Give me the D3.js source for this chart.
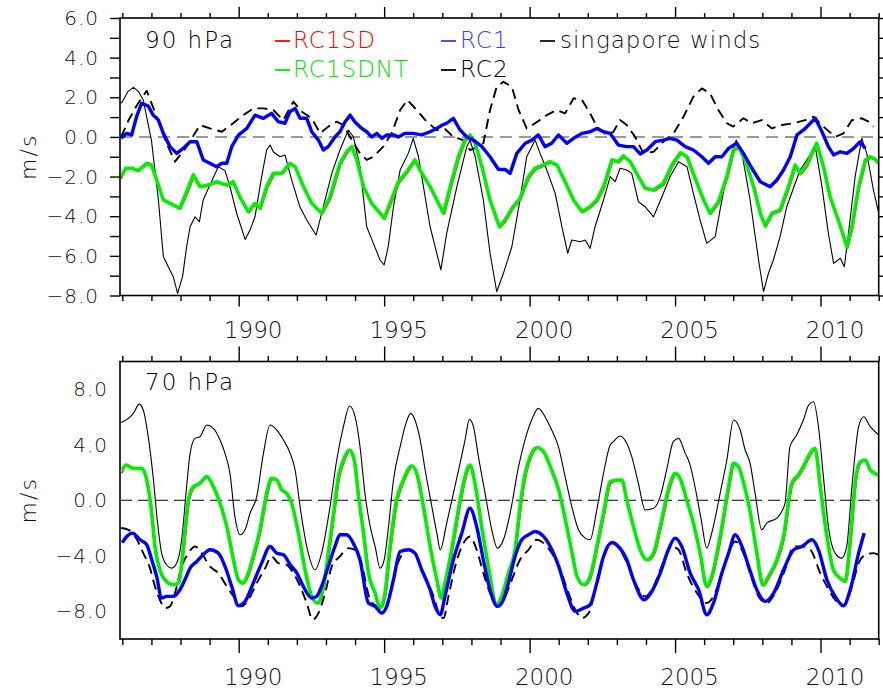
<!DOCTYPE html>
<html><head><meta charset="utf-8">
<script src="https://cdn.jsdelivr.net/npm/d3@7"></script>
<style>
html,body{margin:0;padding:0;background:#fff;}
svg{display:block;font-family:"DejaVu Sans",sans-serif;font-weight:200;}
</style></head>
<body>
<svg id="chart" width="883" height="694"></svg>
<script>
// ---------------- DATA ----------------
const yearTicks = d3.range(1986, 2013);
const yearLabels = [1990, 1995, 2000, 2005, 2010];
const topYTicks = d3.range(-8, 7, 1);
const topYLabels = [-8, -6, -4, -2, 0, 2, 4, 6];
const botYLabels = [-8, -4, 0, 4, 8];
const panelTitles = ["90 hPa", "70 hPa"];
const seriesNames = ["RC1SD", "RC1SDNT", "RC1", "RC2", "singapore winds"];

// 90 hPa panel: [year, m/s]
const sgp90 = [[1985.96,1.7],[1986.0,1.78],[1986.2,2.3],[1986.38,2.5],[1986.55,2.3],[1986.72,1.86],[1987.0,-0.16],[1987.24,-3.18],[1987.41,-6.04],[1987.58,-6.55],[1987.75,-7.05],[1987.9,-7.89],[1988.07,-7.05],[1988.21,-5.54],[1988.33,-4.53],[1988.5,-4.03],[1988.65,-4.28],[1988.78,-3.18],[1989.01,-2.43],[1989.3,-1.5],[1989.53,-1.7],[1989.7,-2.51],[1989.93,-3.85],[1990.22,-5.17],[1990.39,-4.7],[1990.56,-4.03],[1990.79,-2.0],[1990.96,-0.66],[1991.08,-0.41],[1991.19,-0.75],[1991.42,-1.0],[1991.59,-0.91],[1991.82,-2.17],[1992.1,-3.52],[1992.34,-4.19],[1992.66,-4.95],[1992.91,-3.52],[1993.2,-1.84],[1993.48,-0.66],[1993.77,0.35],[1993.94,0.01],[1994.17,-1.5],[1994.4,-4.53],[1994.63,-5.37],[1994.86,-6.21],[1995.0,-6.46],[1995.14,-5.54],[1995.32,-3.52],[1995.55,-1.67],[1995.83,-0.83],[1996.0,-0.07],[1996.18,-1.0],[1996.35,-2.51],[1996.58,-4.53],[1996.81,-5.87],[1996.95,-6.71],[1997.15,-4.86],[1997.5,-2.51],[1997.84,-0.49],[1997.95,-0.16],[1998.13,-1.0],[1998.41,-3.18],[1998.64,-5.87],[1998.87,-7.81],[1999.1,-6.88],[1999.39,-5.54],[1999.67,-3.18],[1999.9,-1.0],[2000.19,-0.16],[2000.36,-0.83],[2000.59,-1.67],[2000.88,-2.85],[2001.11,-4.53],[2001.31,-5.87],[2001.45,-5.2],[2001.74,-5.29],[2001.91,-5.2],[2002.08,-5.62],[2002.25,-4.53],[2002.54,-3.18],[2002.77,-2.0],[2002.94,-2.26],[2003.11,-1.58],[2003.34,-1.67],[2003.51,-1.84],[2003.74,-3.27],[2003.97,-3.52],[2004.26,-4.03],[2004.55,-3.02],[2004.83,-2.0],[2005.12,-1.25],[2005.41,-1.5],[2005.63,-2.85],[2005.86,-4.19],[2006.09,-5.37],[2006.38,-5.03],[2006.61,-3.18],[2006.89,-1.16],[2007.1,-0.16],[2007.3,-0.83],[2007.58,-3.18],[2007.87,-6.21],[2008.04,-7.81],[2008.21,-6.88],[2008.38,-6.21],[2008.61,-5.03],[2008.84,-3.52],[2009.13,-2.34],[2009.3,-1.67],[2009.53,-1.16],[2009.82,-0.49],[2010.05,-2.51],[2010.27,-4.86],[2010.45,-6.38],[2010.68,-6.12],[2010.82,-6.55],[2010.96,-4.86],[2011.19,-2.0],[2011.42,-0.07],[2011.59,-0.83],[2011.82,-2.68],[2012.0,-3.85]];

const rc2_90 = [[1985.96,0.0],[1986.2,0.8],[1986.5,1.6],[1986.84,2.33],[1987.18,1.02],[1987.52,-0.32],[1987.81,-1.25],[1988.21,-0.49],[1988.67,0.6],[1989.01,0.43],[1989.42,0.26],[1989.81,0.69],[1990.16,1.1],[1990.5,1.44],[1990.85,1.44],[1991.19,1.36],[1991.53,0.85],[1991.88,1.78],[1992.17,1.27],[1992.51,0.94],[1992.8,0.18],[1993.08,0.52],[1993.37,0.77],[1993.6,0.6],[1993.89,-0.16],[1994.17,-0.83],[1994.4,-1.16],[1994.63,-1.0],[1994.97,-0.49],[1995.26,0.18],[1995.55,1.36],[1995.8,1.86],[1996.12,1.36],[1996.46,0.77],[1996.81,0.35],[1997.09,0.4],[1997.38,0.0],[1997.72,-0.16],[1997.95,-0.66],[1998.24,-0.49],[1998.41,-0.32],[1998.64,1.36],[1998.87,2.53],[1999.1,2.78],[1999.39,2.53],[1999.62,1.36],[1999.9,0.43],[2000.19,0.69],[2000.59,1.1],[2000.94,1.36],[2001.22,1.19],[2001.51,1.95],[2001.8,1.86],[2002.08,1.19],[2002.31,0.52],[2002.65,0.1],[2002.88,0.26],[2003.11,0.85],[2003.34,0.6],[2003.63,0.0],[2003.91,-0.83],[2004.26,-0.75],[2004.6,-0.24],[2004.95,0.18],[2005.29,1.02],[2005.63,2.03],[2005.92,2.45],[2006.2,2.2],[2006.49,1.36],[2006.78,0.69],[2007.0,0.52],[2007.35,0.94],[2007.64,0.69],[2007.98,0.85],[2008.33,0.43],[2008.67,0.6],[2009.07,0.69],[2009.47,0.85],[2009.76,1.02],[2010.1,0.52],[2010.51,0.0],[2010.79,0.18],[2011.08,0.85],[2011.42,0.94],[2011.65,0.77],[2011.82,0.52]];

const rc1_90 = [[1985.96,-0.07],[1986.15,0.18],[1986.32,0.1],[1986.49,1.02],[1986.66,1.69],[1986.89,1.56],[1987.06,1.1],[1987.24,0.85],[1987.41,0.18],[1987.64,-0.49],[1987.87,-0.83],[1988.09,-0.58],[1988.33,-0.24],[1988.56,-0.24],[1988.78,-1.16],[1989.01,-1.33],[1989.24,-1.5],[1989.42,-1.33],[1989.59,-1.33],[1989.76,-0.49],[1990.0,0.1],[1990.28,0.43],[1990.56,1.1],[1990.85,0.94],[1991.13,1.19],[1991.36,0.77],[1991.59,0.69],[1991.76,1.27],[1991.94,1.44],[1992.11,0.94],[1992.34,0.94],[1992.51,0.26],[1992.74,-0.16],[1992.91,-0.66],[1993.08,-0.49],[1993.31,0.0],[1993.48,0.26],[1993.66,0.77],[1993.83,1.1],[1993.99,0.77],[1994.23,0.43],[1994.4,0.26],[1994.57,0.0],[1994.75,0.18],[1994.92,-0.07],[1995.09,0.1],[1995.32,0.1],[1995.49,0.0],[1995.72,0.18],[1996.0,0.18],[1996.29,0.1],[1996.58,0.26],[1996.81,0.43],[1997.0,0.6],[1997.15,0.69],[1997.38,0.94],[1997.61,0.35],[1997.84,0.0],[1998.07,-0.16],[1998.36,-0.49],[1998.64,-1.0],[1998.93,-1.64],[1999.16,-1.64],[1999.33,-1.84],[1999.56,-0.83],[1999.85,-0.32],[2000.08,-0.16],[2000.3,0.1],[2000.53,-0.49],[2000.76,-0.32],[2000.99,0.1],[2001.28,-0.32],[2001.51,-0.07],[2001.8,0.18],[2002.08,0.26],[2002.31,0.43],[2002.54,0.26],[2002.77,0.18],[2003.05,-0.41],[2003.34,-0.49],[2003.57,-0.49],[2003.8,-0.86],[2004.03,-0.66],[2004.32,-0.24],[2004.6,-0.16],[2004.83,-0.07],[2005.06,-0.16],[2005.35,-0.49],[2005.63,-0.66],[2005.92,-1.0],[2006.15,-1.33],[2006.38,-1.0],[2006.61,-1.0],[2006.84,-0.58],[2007.12,-0.32],[2007.35,-0.83],[2007.64,-1.58],[2007.93,-2.26],[2008.27,-2.51],[2008.5,-2.17],[2008.73,-1.67],[2008.96,-1.0],[2009.19,0.1],[2009.42,0.35],[2009.59,0.6],[2009.82,0.94],[2010.05,0.26],[2010.27,-0.49],[2010.45,-0.91],[2010.68,-0.75],[2010.91,-0.83],[2011.14,-0.58],[2011.36,-0.24],[2011.54,-0.58]];

const sdnt90 = [[1985.96,-2.0],[1986.12,-1.58],[1986.32,-1.58],[1986.55,-1.7],[1986.84,-1.33],[1987.0,-1.42],[1987.18,-2.17],[1987.41,-3.18],[1987.64,-3.35],[1987.98,-3.6],[1988.21,-2.76],[1988.44,-1.92],[1988.67,-2.51],[1988.95,-2.43],[1989.24,-2.26],[1989.59,-2.43],[1989.81,-2.26],[1990.04,-3.02],[1990.33,-3.77],[1990.56,-3.35],[1990.73,-3.6],[1990.96,-2.51],[1991.19,-1.84],[1991.48,-1.84],[1991.76,-1.33],[1991.94,-1.5],[1992.23,-2.51],[1992.51,-3.35],[1992.85,-3.85],[1993.14,-3.02],[1993.48,-1.33],[1993.71,-0.75],[1993.89,-0.49],[1994.06,-1.16],[1994.29,-2.51],[1994.57,-3.35],[1994.86,-3.85],[1995.0,-4.11],[1995.2,-3.35],[1995.49,-2.26],[1995.78,-1.75],[1996.06,-1.16],[1996.23,-1.67],[1996.58,-2.51],[1996.81,-3.18],[1997.04,-3.85],[1997.27,-2.51],[1997.55,-1.0],[1997.78,-0.16],[1997.95,0.1],[1998.13,-0.32],[1998.36,-1.5],[1998.64,-3.18],[1998.96,-4.53],[1999.16,-4.19],[1999.39,-3.6],[1999.67,-3.1],[1999.96,-2.0],[2000.19,-1.58],[2000.47,-1.42],[2000.7,-1.25],[2000.94,-1.42],[2001.22,-2.26],[2001.51,-3.18],[2001.8,-3.77],[2002.08,-3.52],[2002.31,-3.18],[2002.54,-2.51],[2002.83,-1.16],[2003.05,-1.25],[2003.22,-0.96],[2003.46,-1.25],[2003.74,-2.0],[2003.97,-2.59],[2004.26,-2.68],[2004.6,-2.34],[2004.89,-1.42],[2005.18,-0.8],[2005.41,-1.0],[2005.69,-2.09],[2005.98,-3.18],[2006.2,-3.85],[2006.49,-3.27],[2006.78,-2.0],[2007.0,-0.66],[2007.18,-0.49],[2007.41,-1.16],[2007.7,-2.51],[2007.93,-3.85],[2008.1,-4.49],[2008.33,-3.85],[2008.61,-3.69],[2008.9,-2.51],[2009.13,-1.42],[2009.3,-1.84],[2009.53,-1.42],[2009.7,-0.83],[2009.87,-0.32],[2010.1,-1.5],[2010.33,-3.02],[2010.61,-4.19],[2010.91,-5.54],[2011.08,-4.53],[2011.31,-2.51],[2011.54,-1.16],[2011.71,-1.0],[2011.88,-1.13],[2012.0,-1.33]];

const sd90 = [[1985.96,-2.1],[1986.12,-1.65],[1986.32,-1.62],[1986.55,-1.75],[1986.86,-1.38],[1987.02,-1.45],[1987.22,-2.25],[1987.44,-3.25],[1987.66,-3.4],[1988.0,-3.65],[1988.24,-2.85],[1988.47,-1.98],[1988.7,-2.55],[1988.97,-2.47],[1989.26,-2.3],[1989.61,-2.47],[1989.83,-2.3],[1990.07,-3.08],[1990.36,-3.82],[1990.58,-3.4],[1990.76,-3.65],[1990.99,-2.58],[1991.22,-1.9],[1991.5,-1.88],[1991.78,-1.38],[1991.96,-1.55],[1992.26,-2.57],[1992.54,-3.42],[1992.88,-3.9],[1993.17,-3.1],[1993.51,-1.4],[1993.74,-0.8],[1993.91,-0.52],[1994.09,-1.22],[1994.32,-2.57],[1994.6,-3.42],[1994.89,-3.9],[1995.03,-4.15],[1995.23,-3.42],[1995.52,-2.32],[1995.81,-1.8],[1996.08,-1.2],[1996.26,-1.72],[1996.61,-2.57],[1996.84,-3.25],[1997.07,-3.9],[1997.3,-2.6],[1997.58,-1.08],[1997.81,-0.22],[1997.97,0.05],[1998.16,-0.38],[1998.39,-1.57],[1998.67,-3.25],[1998.99,-4.58],[1999.19,-4.25],[1999.42,-3.65],[1999.7,-3.15],[1999.99,-2.07],[2000.22,-1.64],[2000.5,-1.47],[2000.72,-1.3],[2000.97,-1.47],[2001.25,-2.32],[2001.54,-3.24],[2001.83,-3.82],[2002.11,-3.57],[2002.34,-3.24],[2002.57,-2.57],[2002.86,-1.22],[2003.08,-1.3],[2003.25,-1.02],[2003.49,-1.3],[2003.77,-2.06],[2004.0,-2.64],[2004.29,-2.73],[2004.63,-2.4],[2004.92,-1.48],[2005.2,-0.85],[2005.43,-1.05],[2005.72,-2.15],[2006.01,-3.24],[2006.23,-3.9],[2006.52,-3.32],[2006.81,-2.06],[2007.03,-0.72],[2007.2,-0.54],[2007.44,-1.22],[2007.73,-2.57],[2007.96,-3.9],[2008.13,-4.54],[2008.36,-3.9],[2008.64,-3.75],[2008.93,-2.57],[2009.16,-1.48],[2009.33,-1.9],[2009.56,-1.48],[2009.73,-0.88],[2009.89,-0.37],[2010.13,-1.55],[2010.36,-3.08],[2010.64,-4.25],[2010.94,-5.6],[2011.11,-4.58],[2011.34,-2.57],[2011.57,-1.22],[2011.74,-1.05],[2011.9,-1.18],[2012.0,-1.36]];

// 70 hPa panel: [year, m/s]
const sgp70 = [[1985.96,5.6],[1986.21,5.9],[1986.38,6.26],[1986.58,6.93],[1986.72,6.5],[1986.89,4.58],[1987.07,1.46],[1987.2,-1.41],[1987.35,-3.81],[1987.52,-4.65],[1987.7,-4.89],[1987.87,-4.53],[1988.04,-2.85],[1988.21,0.98],[1988.33,3.38],[1988.5,4.46],[1988.67,4.58],[1988.9,5.42],[1989.13,5.18],[1989.36,4.34],[1989.53,3.38],[1989.7,1.94],[1989.87,-1.18],[1990.05,-2.49],[1990.22,-2.13],[1990.39,-0.94],[1990.62,0.26],[1990.85,3.38],[1991.08,5.42],[1991.31,5.06],[1991.54,4.34],[1991.77,3.38],[1991.94,2.18],[1992.11,-0.46],[1992.34,-3.33],[1992.62,-5.01],[1992.85,-3.81],[1993.14,-0.46],[1993.37,2.9],[1993.6,5.3],[1993.81,6.79],[1994.0,6.02],[1994.17,3.86],[1994.34,0.5],[1994.52,-1.89],[1994.69,-3.33],[1994.86,-4.89],[1995.0,-4.29],[1995.15,-1.89],[1995.32,1.46],[1995.55,3.86],[1995.75,5.54],[1995.91,6.26],[1996.06,5.78],[1996.24,4.34],[1996.41,2.18],[1996.64,-0.46],[1996.81,-2.37],[1996.93,-3.57],[1997.15,-1.65],[1997.38,0.5],[1997.61,2.66],[1997.78,4.34],[1997.93,5.83],[1998.07,5.3],[1998.24,3.14],[1998.47,0.5],[1998.7,-2.13],[1998.89,-3.45],[1999.1,-2.85],[1999.33,-0.94],[1999.62,2.42],[1999.84,4.34],[2000.07,5.78],[2000.3,6.62],[2000.53,6.02],[2000.76,5.06],[2000.99,3.86],[2001.22,1.7],[2001.45,-0.46],[2001.68,-2.13],[2001.91,-2.73],[2002.08,-2.85],[2002.31,-0.7],[2002.54,1.94],[2002.77,3.98],[2002.88,4.22],[2003.11,4.63],[2003.34,4.1],[2003.51,3.14],[2003.74,1.22],[2003.97,-0.7],[2004.26,-0.58],[2004.49,0.26],[2004.71,2.18],[2004.94,4.22],[2005.12,4.46],[2005.35,3.38],[2005.5,2.66],[2005.73,0.5],[2005.9,-1.41],[2006.09,-3.45],[2006.26,-2.37],[2006.55,0.5],[2006.78,2.9],[2007.01,5.78],[2007.24,5.06],[2007.41,3.62],[2007.58,2.66],[2007.75,0.5],[2007.98,-2.13],[2008.15,-1.65],[2008.5,-1.29],[2008.78,-0.22],[2008.95,3.86],[2009.18,4.7],[2009.41,5.78],[2009.59,6.86],[2009.76,7.1],[2009.93,5.3],[2010.1,1.7],[2010.27,-1.89],[2010.5,-3.81],[2010.73,-4.17],[2010.9,-3.33],[2011.08,0.98],[2011.31,5.3],[2011.48,6.02],[2011.71,5.3],[2012.0,4.7]];

const sdnt70 = [[1986.0,2.18],[1986.13,2.54],[1986.38,2.3],[1986.66,2.3],[1986.84,1.46],[1987.01,-0.94],[1987.12,-3.33],[1987.29,-5.01],[1987.52,-5.85],[1987.75,-6.09],[1987.93,-5.97],[1988.1,-3.33],[1988.27,0.02],[1988.44,0.98],[1988.67,1.22],[1988.9,1.7],[1989.13,0.98],[1989.36,-0.22],[1989.59,-1.89],[1989.82,-4.29],[1989.99,-5.73],[1990.14,-5.97],[1990.33,-5.25],[1990.5,-4.05],[1990.73,-2.13],[1990.96,0.5],[1991.13,1.58],[1991.31,1.46],[1991.48,0.74],[1991.65,0.5],[1991.82,-0.22],[1992.05,-2.37],[1992.28,-5.01],[1992.51,-6.93],[1992.71,-7.41],[1992.91,-6.21],[1993.08,-3.81],[1993.26,-0.94],[1993.43,1.7],[1993.6,2.9],[1993.81,3.62],[1993.97,2.9],[1994.12,0.26],[1994.29,-2.37],[1994.46,-5.25],[1994.69,-6.69],[1994.86,-7.77],[1995.03,-6.69],[1995.2,-3.33],[1995.43,0.02],[1995.66,1.46],[1995.95,2.47],[1996.12,1.94],[1996.35,-0.46],[1996.58,-3.33],[1996.81,-5.73],[1996.96,-7.05],[1997.09,-5.97],[1997.32,-3.57],[1997.55,-0.7],[1997.78,1.7],[1997.95,2.54],[1998.12,1.22],[1998.35,-1.89],[1998.58,-4.77],[1998.87,-7.53],[1999.04,-6.93],[1999.27,-5.25],[1999.5,-3.57],[1999.67,-0.46],[1999.85,1.94],[2000.02,3.14],[2000.25,3.8],[2000.48,3.5],[2000.71,2.42],[2001.0,0.74],[2001.23,-1.41],[2001.46,-3.81],[2001.63,-5.49],[2001.86,-6.09],[2002.08,-5.49],[2002.31,-3.33],[2002.54,-0.94],[2002.77,1.34],[2003.0,1.46],[2003.17,1.46],[2003.34,0.02],[2003.57,-1.89],[2003.8,-3.57],[2004.03,-4.29],[2004.26,-3.81],[2004.49,-1.89],[2004.83,1.22],[2005.0,1.94],[2005.17,1.58],[2005.4,0.02],[2005.63,-1.65],[2005.86,-3.81],[2006.09,-6.21],[2006.26,-5.49],[2006.55,-2.61],[2006.84,0.98],[2007.01,2.66],[2007.18,2.42],[2007.36,1.22],[2007.59,-0.94],[2007.81,-3.81],[2008.02,-6.09],[2008.21,-5.49],[2008.5,-4.29],[2008.73,-2.61],[2009.01,1.22],[2009.24,1.82],[2009.41,2.42],[2009.64,3.38],[2009.81,3.74],[2009.99,0.98],[2010.22,-2.61],[2010.44,-5.01],[2010.67,-5.61],[2010.85,-5.85],[2011.02,-2.85],[2011.2,1.46],[2011.37,2.78],[2011.54,2.9],[2011.71,2.18],[2012.0,1.82]];

const sd70 = [[1985.98,1.95],[1986.15,2.5],[1986.4,2.26],[1986.68,2.26],[1986.87,1.3],[1987.04,-1.05],[1987.15,-3.4],[1987.32,-5.1],[1987.55,-5.95],[1987.78,-6.15],[1987.96,-6.0],[1988.13,-3.45],[1988.3,-0.1],[1988.47,0.9],[1988.7,1.18],[1988.93,1.66],[1989.16,0.92],[1989.39,-0.3],[1989.62,-1.98],[1989.85,-4.38],[1990.02,-5.8],[1990.17,-6.02],[1990.36,-5.35],[1990.53,-4.15],[1990.76,-2.25],[1990.99,0.38],[1991.16,1.5],[1991.34,1.4],[1991.51,0.66],[1991.68,0.42],[1991.85,-0.32],[1992.08,-2.47],[1992.31,-5.1],[1992.54,-7.0],[1992.74,-7.46],[1992.94,-6.3],[1993.11,-3.95],[1993.29,-1.1],[1993.46,1.56],[1993.63,2.8],[1993.84,3.55],[1994.0,2.8],[1994.15,0.14],[1994.32,-2.48],[1994.49,-5.35],[1994.72,-6.78],[1994.89,-7.8],[1995.06,-6.8],[1995.23,-3.5],[1995.46,-0.1],[1995.69,1.36],[1995.98,2.42],[1996.15,1.85],[1996.38,-0.58],[1996.61,-3.43],[1996.84,-5.82],[1996.99,-7.1],[1997.12,-6.1],[1997.35,-3.7],[1997.58,-0.82],[1997.81,1.58],[1997.98,2.48],[1998.15,1.1],[1998.38,-2.0],[1998.61,-4.87],[1998.9,-7.58],[1999.07,-7.0],[1999.3,-5.35],[1999.53,-3.67],[1999.7,-0.6],[1999.88,1.82],[2000.05,3.05],[2000.28,3.74],[2000.51,3.44],[2000.74,2.32],[2001.03,0.62],[2001.26,-1.52],[2001.49,-3.92],[2001.66,-5.58],[2001.89,-6.15],[2002.11,-5.58],[2002.34,-3.45],[2002.57,-1.06],[2002.8,1.22],[2003.03,1.4],[2003.2,1.38],[2003.37,-0.1],[2003.6,-2.0],[2003.83,-3.66],[2004.06,-4.35],[2004.29,-3.9],[2004.52,-2.0],[2004.86,1.1],[2005.03,1.88],[2005.2,1.5],[2005.43,-0.1],[2005.66,-1.75],[2005.89,-3.92],[2006.12,-6.3],[2006.29,-5.58],[2006.58,-2.72],[2006.87,0.86],[2007.04,2.6],[2007.21,2.35],[2007.39,1.1],[2007.62,-1.05],[2007.84,-3.92],[2008.05,-6.18],[2008.24,-5.58],[2008.53,-4.38],[2008.76,-2.72],[2009.04,1.1],[2009.27,1.75],[2009.44,2.35],[2009.67,3.3],[2009.84,3.7],[2010.02,0.86],[2010.25,-2.72],[2010.47,-5.1],[2010.7,-5.7],[2010.88,-5.9],[2011.05,-2.98],[2011.23,1.34],[2011.4,2.7],[2011.57,2.85],[2011.74,2.1],[2012.0,1.76]];

const rc1_70 = [[1986.0,-3.05],[1986.15,-2.61],[1986.35,-2.37],[1986.61,-2.85],[1986.84,-3.21],[1987.01,-4.29],[1987.18,-5.49],[1987.35,-7.05],[1987.52,-6.93],[1987.75,-6.93],[1987.98,-6.45],[1988.15,-5.73],[1988.33,-4.89],[1988.56,-4.41],[1988.78,-3.93],[1989.01,-3.57],[1989.3,-3.81],[1989.53,-4.77],[1989.76,-6.21],[1989.99,-7.6],[1990.22,-7.29],[1990.5,-5.97],[1990.79,-4.53],[1991.08,-3.33],[1991.31,-3.81],[1991.54,-3.93],[1991.77,-4.65],[1992.0,-5.25],[1992.22,-6.21],[1992.51,-7.05],[1992.68,-6.93],[1992.85,-6.21],[1993.08,-4.77],[1993.31,-3.33],[1993.48,-2.49],[1993.71,-2.49],[1993.94,-3.09],[1994.17,-4.29],[1994.46,-7.41],[1994.69,-7.65],[1994.92,-8.13],[1995.09,-7.65],[1995.32,-5.73],[1995.55,-3.69],[1995.83,-3.57],[1996.06,-3.81],[1996.29,-5.01],[1996.58,-6.45],[1996.75,-7.65],[1996.93,-8.25],[1997.09,-6.93],[1997.38,-4.29],[1997.67,-2.37],[1997.95,-0.58],[1998.18,-1.89],[1998.41,-4.29],[1998.64,-6.45],[1998.89,-7.65],[1999.1,-7.17],[1999.27,-5.97],[1999.5,-4.05],[1999.73,-2.85],[1999.96,-2.49],[2000.19,-2.25],[2000.42,-2.49],[2000.71,-3.33],[2001.0,-4.77],[2001.28,-6.69],[2001.57,-8.01],[2001.86,-7.77],[2002.08,-7.53],[2002.31,-5.97],[2002.54,-4.05],[2002.83,-3.05],[2003.05,-3.33],[2003.34,-4.29],[2003.57,-5.73],[2003.94,-7.17],[2004.2,-6.57],[2004.49,-5.25],[2004.77,-3.57],[2005.0,-2.73],[2005.23,-3.33],[2005.52,-5.25],[2005.81,-6.45],[2006.09,-8.25],[2006.32,-7.41],[2006.61,-5.25],[2006.84,-3.81],[2007.07,-2.49],[2007.3,-3.33],[2007.53,-4.77],[2007.81,-6.45],[2008.1,-7.29],[2008.39,-6.69],[2008.73,-5.01],[2009.08,-3.57],[2009.36,-3.33],[2009.71,-2.85],[2009.93,-3.57],[2010.22,-5.73],[2010.5,-6.93],[2010.79,-7.6],[2011.02,-6.45],[2011.31,-3.81],[2011.5,-2.37]];

const rc2_70 = [[1985.96,-2.0],[1986.21,-2.13],[1986.44,-2.61],[1986.72,-3.81],[1986.95,-4.89],[1987.12,-6.21],[1987.29,-7.17],[1987.47,-7.77],[1987.64,-7.65],[1987.81,-6.69],[1988.04,-4.77],[1988.27,-3.81],[1988.5,-3.33],[1988.73,-3.81],[1989.01,-4.77],[1989.3,-5.25],[1989.59,-6.21],[1989.87,-7.05],[1990.1,-7.65],[1990.33,-7.17],[1990.62,-5.97],[1990.91,-4.89],[1991.13,-4.05],[1991.36,-4.53],[1991.65,-4.65],[1991.88,-5.25],[1992.11,-6.21],[1992.34,-7.41],[1992.54,-8.61],[1992.74,-8.13],[1992.97,-6.69],[1993.2,-4.77],[1993.48,-4.05],[1993.77,-3.45],[1994.0,-3.57],[1994.23,-4.65],[1994.52,-7.17],[1994.75,-7.65],[1994.97,-8.01],[1995.2,-6.69],[1995.43,-4.77],[1995.66,-3.81],[1995.89,-3.57],[1996.12,-4.17],[1996.41,-5.49],[1996.7,-6.93],[1996.93,-8.37],[1997.04,-8.49],[1997.21,-6.93],[1997.44,-4.77],[1997.73,-3.09],[1997.95,-2.61],[1998.18,-3.57],[1998.41,-5.25],[1998.64,-6.69],[1998.93,-7.53],[1999.16,-6.93],[1999.39,-5.73],[1999.67,-4.29],[1999.96,-3.57],[2000.25,-2.85],[2000.48,-3.09],[2000.76,-3.81],[2001.05,-5.01],[2001.34,-6.69],[2001.57,-7.89],[2001.8,-8.49],[2002.03,-8.13],[2002.31,-5.97],[2002.6,-3.81],[2002.83,-3.09],[2003.11,-3.57],[2003.4,-4.77],[2003.69,-6.21],[2003.97,-6.93],[2004.26,-6.21],[2004.54,-4.77],[2004.89,-3.33],[2005.12,-3.57],[2005.4,-5.25],[2005.75,-6.69],[2006.09,-7.41],[2006.32,-6.93],[2006.61,-5.25],[2006.84,-3.81],[2007.07,-2.97],[2007.3,-3.57],[2007.58,-5.25],[2007.87,-6.93],[2008.15,-7.41],[2008.44,-6.69],[2008.78,-5.01],[2009.08,-3.33],[2009.36,-3.33],[2009.65,-3.57],[2009.99,-5.25],[2010.22,-6.21],[2010.5,-7.17],[2010.79,-7.65],[2011.08,-6.21],[2011.31,-4.53],[2011.54,-3.93],[2011.82,-3.81],[2012.0,-3.93]];

// ---------------- DRAW ----------------
const svg = d3.select("#chart");
const X0 = 120, X1 = 878.7;
const x = d3.scaleLinear().domain([1985.92, 2012.0]).range([X0, X1]);
const yTop = d3.scaleLinear().domain([-8, 6]).range([295.5, 18]);
const yBot = d3.scaleLinear().domain([-10, 10]).range([639, 361.5]);

const C = {red:"#ff0000", green:"#00f000", blue:"#0000ff", black:"#000000"};
const fmt = v => (v < 0 ? "\u2212" : "") + Math.abs(v).toFixed(1);

function panel(y, id, opts) {
  const g = svg.append("g");
  const yr = y.range();
  const top = yr[1], bot = yr[0];
  g.append("clipPath").attr("id", id).append("rect")
    .attr("x", X0).attr("y", top).attr("width", X1 - X0).attr("height", bot - top);

  const minorT = yearTicks.filter(d => !yearLabels.includes(d));
  g.append("g").attr("transform", `translate(0,${top})`)
    .call(d3.axisTop(x).tickValues(minorT).tickSize(opts.topMinor).tickFormat(""));
  g.append("g").attr("transform", `translate(0,${top})`)
    .call(d3.axisTop(x).tickValues(yearLabels).tickSize(opts.topMajor).tickFormat(""));
  g.append("g").attr("transform", `translate(0,${bot})`)
    .call(d3.axisBottom(x).tickValues(minorT).tickSize(opts.botMinor).tickFormat(""));
  g.append("g").attr("transform", `translate(0,${bot})`)
    .call(d3.axisBottom(x).tickValues(yearLabels).tickSize(opts.botMajor).tickFormat(""));

  if (opts.yTicks) {
    g.append("g").attr("transform", `translate(${X0},0)`)
      .call(d3.axisLeft(y).tickValues(opts.yTicks).tickSize(10).tickFormat(""));
    g.append("g").attr("transform", `translate(${X1},0)`)
      .call(d3.axisRight(y).tickValues(opts.yTicks).tickSize(10).tickFormat(""));
  }
  g.selectAll(".domain").remove();
  g.selectAll(".tick line").attr("stroke", "#000").attr("stroke-width", 1.4);

  g.selectAll("text.yl").data(opts.yLabels).enter().append("text")
    .attr("x", opts.yLabelX).attr("y", d => y(d) + 7)
    .attr("text-anchor", "end").attr("font-size", 20).attr("letter-spacing", 1)
    .attr("fill", "#111").text(d => fmt(d));

  g.append("text").attr("transform", `translate(36,${(top + bot) / 2}) rotate(-90)`)
    .attr("text-anchor", "middle").attr("font-size", 22).attr("letter-spacing", 2)
    .attr("fill", "#111").text("m/s");

  g.append("line").attr("x1", X0).attr("x2", X1).attr("y1", y(0)).attr("y2", y(0))
    .attr("stroke", opts.zeroColor).attr("stroke-width", opts.zeroWidth)
    .attr("stroke-dasharray", opts.zeroDash);

  const plot = g.append("g").attr("clip-path", `url(#${id})`);
  const line = d3.line().x(d => x(d[0])).y(d => y(d[1])).curve(opts.curve);
  const draw = (data, color, w, dash) => {
    const p = plot.append("path").datum(data).attr("d", line)
      .attr("fill", "none").attr("stroke", color).attr("stroke-width", w)
      .attr("stroke-linejoin", "round").attr("stroke-linecap", "butt");
    if (dash) p.attr("stroke-dasharray", dash);
  };
  draw(opts.sgp, C.black, 1.1);
  draw(opts.rc2, C.black, 1.9, "10,6");
  draw(opts.sd, C.red, 1.5);
  draw(opts.sdnt, C.green, 3.6);
  draw(opts.rc1, C.blue, 3.4);

  g.append("rect").attr("x", X0).attr("y", top).attr("width", X1 - X0).attr("height", bot - top)
    .attr("fill", "none").attr("stroke", "#000").attr("stroke-width", 1.6);

  g.append("text").attr("x", 145).attr("y", opts.titleY).attr("font-size", 23)
    .attr("letter-spacing", 2).attr("fill", "#000").text(opts.title);
  return g;
}

panel(yTop, "clipTop", {
  topMinor: 5, topMajor: 11, botMinor: 5.5, botMajor: 11,
  yTicks: topYTicks, yLabels: topYLabels, yLabelX: 99,
  zeroColor: "#7a7a7a", zeroWidth: 1.6, zeroDash: "12,7",
  curve: d3.curveLinear, title: panelTitles[0], titleY: 48,
  sgp: sgp90, rc2: rc2_90, sd: sd90, sdnt: sdnt90, rc1: rc1_90
});
panel(yBot, "clipBot", {
  topMinor: 5.5, topMajor: 15, botMinor: 6, botMajor: 14,
  yTicks: null, yLabels: botYLabels, yLabelX: 108,
  zeroColor: "#000", zeroWidth: 1, zeroDash: "12,6",
  curve: d3.curveMonotoneX, title: panelTitles[1], titleY: 390,
  sgp: sgp70, rc2: rc2_70, sd: sd70, sdnt: sdnt70, rc1: rc1_70
});

[338, 685].forEach(yy => {
  svg.append("g").selectAll("text").data(yearLabels).enter().append("text")
    .attr("x", d => x(d + 0.5)).attr("y", yy).attr("text-anchor", "middle")
    .attr("font-size", 23).attr("fill", "#111").text(d => d);
});

const legend = [
  {name: seriesNames[0], color: C.red, text: "#ff0000", lx: 275, ly: 41, tx: 293, ty: 48},
  {name: seriesNames[1], color: C.green, text: "#00e000", lx: 275, ly: 70, tx: 293, ty: 77},
  {name: seriesNames[2], color: "#3a3aff", text: "#3a3aff", lx: 441, ly: 41, tx: 460, ty: 48},
  {name: seriesNames[3], color: "#000", text: "#000", lx: 441, ly: 70, tx: 460, ty: 77},
  {name: seriesNames[4], color: "#111", text: "#111", lx: 540, ly: 41, tx: 560, ty: 48}
];
const lg = svg.append("g");
legend.forEach(d => {
  lg.append("line").attr("x1", d.lx).attr("x2", d.lx + 15).attr("y1", d.ly).attr("y2", d.ly)
    .attr("stroke", d.color).attr("stroke-width", 1.8);
  lg.append("text").attr("x", d.tx).attr("y", d.ty).attr("font-size", 23)
    .attr("letter-spacing", 1).attr("fill", d.text).text(d.name);
});
</script>
</body></html>
